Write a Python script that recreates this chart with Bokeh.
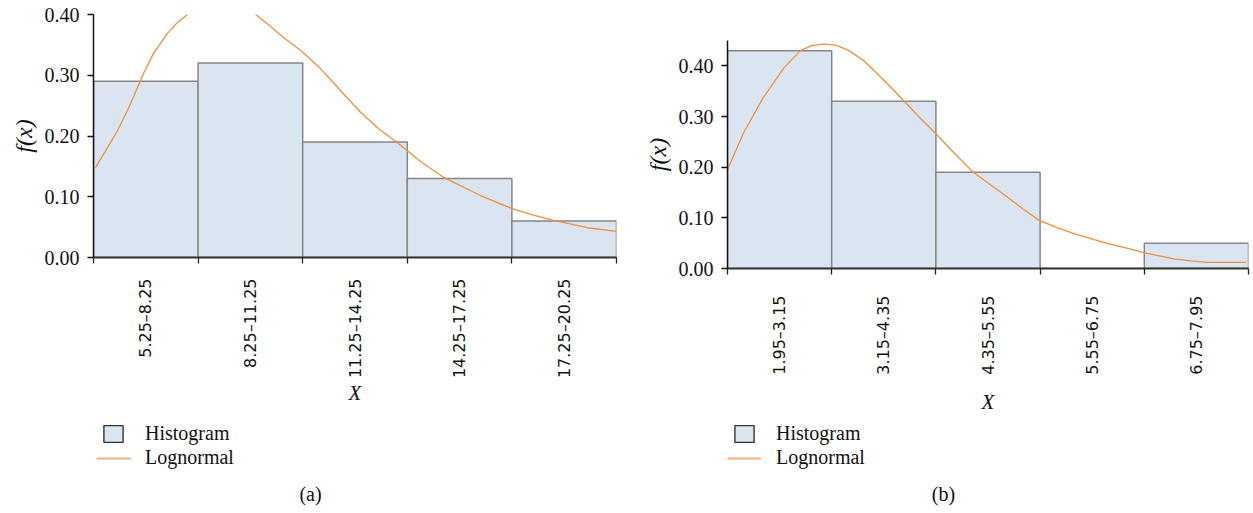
import math
from bokeh.plotting import figure
from bokeh.models import Range1d, FixedTicker, NumeralTickFormatter, Legend, LegendItem, Label
from bokeh.layouts import row, column
from bokeh.embed import file_html
from bokeh.resources import INLINE

# ---------------- data: panel (a) ----------------
a_edges = [5.25, 8.25, 11.25, 14.25, 17.25, 20.25]
a_labels = ["5.25–8.25", "8.25–11.25", "11.25–14.25", "14.25–17.25", "17.25–20.25"]
a_freq = [0.29, 0.32, 0.19, 0.13, 0.06]
a_curve_x = [5.307, 5.652, 5.938, 6.225, 6.512, 6.684, 6.971, 7.372, 7.659, 7.946, 8.319,
             8.892, 9.466, 9.839, 10.27, 10.699, 11.187, 11.760, 12.334, 12.908, 13.43,
             13.969, 14.63, 15.288, 16.349, 17.238, 17.84, 18.443, 19.418, 20.250]
a_curve_y = [0.148, 0.181, 0.209, 0.242, 0.280, 0.303, 0.336, 0.369, 0.387, 0.400, 0.422,
             0.438, 0.428, 0.403, 0.383, 0.362, 0.341, 0.311, 0.275, 0.239, 0.212,
             0.189, 0.158, 0.132, 0.102, 0.081, 0.070, 0.061, 0.049, 0.043]

# ---------------- data: panel (b) ----------------
b_edges = [1.95, 3.15, 4.35, 5.55, 6.75, 7.95]
b_labels = ["1.95–3.15", "3.15–4.35", "4.35–5.55", "5.55–6.75", "6.75–7.95"]
b_freq = [0.43, 0.33, 0.19, 0.0, 0.05]
b_curve_x = [1.95, 2.13, 2.36, 2.60, 2.79, 2.92, 3.06, 3.20, 3.35, 3.52, 3.75, 3.98, 4.15,
             4.35, 4.52, 4.78, 5.18, 5.35, 5.54, 5.74, 5.94, 6.33, 6.55, 6.75, 7.09, 7.28,
             7.48, 7.70, 7.92]
b_curve_y = [0.195, 0.266, 0.337, 0.396, 0.430, 0.440, 0.443, 0.441, 0.430, 0.410, 0.372,
             0.331, 0.300, 0.266, 0.235, 0.190, 0.140, 0.118, 0.095, 0.081, 0.069, 0.049,
             0.040, 0.031, 0.019, 0.015, 0.012, 0.012, 0.012]

y_ticks = [0.0, 0.1, 0.2, 0.3, 0.4]
legend_names = ["Histogram", "Lognormal"]

SERIF = "Liberation Serif"
SANS = "DejaVu Sans"
BAR_FILL = "#dbe5f1"
BAR_LINE = "#878787"
CURVE = "#f0903c"
LEG_LINE = "#f4b07c"
H_MAIN = 420
H_LEG = 93
NAN = float("nan")


def panel(edges, freq, labels, cx, cy, ymax, width, mb, label_standoff, xlab_standoff):
    p = figure(width=width, height=H_MAIN, output_backend="svg", toolbar_location=None,
               x_range=Range1d(edges[0], edges[-1]), y_range=Range1d(0, ymax),
               min_border_left=mb[0], min_border_right=mb[1],
               min_border_top=mb[2], min_border_bottom=mb[3])
    p.outline_line_color = None
    p.xgrid.visible = False
    p.ygrid.visible = False

    p.quad(left=edges[:-1], right=edges[1:], bottom=0, top=freq,
           fill_color=BAR_FILL, line_color=BAR_LINE, line_width=1.5)
    p.line(cx, cy, line_color=CURVE, line_width=1.3, line_join="round")

    centers = [(edges[i] + edges[i + 1]) / 2 for i in range(len(labels))]
    xa = p.xaxis[0]
    xa.ticker = FixedTicker(ticks=centers, minor_ticks=edges)
    xa.major_label_overrides = {c: l for c, l in zip(centers, labels)}
    xa.major_label_orientation = math.pi / 2
    xa.major_tick_line_color = None
    xa.major_tick_out = 0
    xa.major_tick_in = 0
    xa.minor_tick_out = 6
    xa.minor_tick_in = 0
    xa.minor_tick_line_color = "#222222"
    xa.minor_tick_line_width = 1.3
    xa.axis_line_color = "#333333"
    xa.axis_line_width = 2
    xa.major_label_standoff = label_standoff
    xa.major_label_text_font = SANS
    xa.major_label_text_font_size = "16px"
    xa.major_label_text_color = "#111111"
    xa.axis_label = "X"
    xa.axis_label_text_font = SERIF
    xa.axis_label_text_font_style = "italic"
    xa.axis_label_text_font_size = "21px"
    xa.axis_label_text_color = "#111111"
    xa.axis_label_standoff = xlab_standoff

    ya = p.yaxis[0]
    ya.ticker = FixedTicker(ticks=y_ticks)
    ya.formatter = NumeralTickFormatter(format="0.00")
    ya.minor_tick_line_color = None
    ya.major_tick_out = 6
    ya.major_tick_in = 0
    ya.major_tick_line_color = "#111111"
    ya.major_tick_line_width = 1.3
    ya.axis_line_color = "#111111"
    ya.axis_line_width = 1.5
    ya.major_label_standoff = 8
    ya.major_label_text_font = SERIF
    ya.major_label_text_font_size = "20px"
    ya.major_label_text_color = "#111111"
    ya.axis_label = "f(x)"
    ya.axis_label_text_font = SERIF
    ya.axis_label_text_font_style = "italic"
    ya.axis_label_text_font_size = "24px"
    ya.axis_label_text_color = "#111111"
    ya.axis_label_standoff = 5
    return p


def make_legend(items, loc, gw, gh, standoff):
    return Legend(items=items, location=loc, orientation="vertical", padding=0, margin=0,
                  spacing=0, glyph_width=gw, glyph_height=gh, label_height=20,
                  label_standoff=standoff, background_fill_alpha=0, border_line_alpha=0,
                  label_text_font=SERIF, label_text_font_size="20px",
                  label_text_color="#111111")


def legend_fig(width, sq_loc, sq_standoff, ln_loc, ln_w, ln_standoff, caption, cap_xy):
    q = figure(width=width, height=H_LEG, output_backend="svg", toolbar_location=None,
               x_range=Range1d(0, 1), y_range=Range1d(0, 1),
               x_axis_location=None, y_axis_location=None,
               min_border_left=0, min_border_right=0, min_border_top=0, min_border_bottom=0)
    q.outline_line_color = None
    q.xgrid.visible = False
    q.ygrid.visible = False
    # legend proxies: NaN positions, so only their legend keys are drawn
    sq = q.quad(left=[NAN], right=[NAN], top=[NAN], bottom=[NAN], fill_color=BAR_FILL,
                line_color="#333333", line_width=1.4)
    ln = q.line(x=[NAN, NAN], y=[NAN, NAN], line_color=LEG_LINE, line_width=2)
    q.add_layout(make_legend([LegendItem(label=legend_names[0], renderers=[sq])],
                             sq_loc, 24, 21, sq_standoff))
    q.add_layout(make_legend([LegendItem(label=legend_names[1], renderers=[ln])],
                             ln_loc, ln_w, 20, ln_standoff))
    q.add_layout(Label(x=cap_xy[0], y=cap_xy[1], x_units="screen", y_units="screen",
                       text=caption, text_align="center", text_baseline="middle",
                       text_font=SERIF, text_font_size="20px", text_color="#111111"))
    return q


pa = panel(a_edges, a_freq, a_labels, a_curve_x, a_curve_y, 0.40, 633,
           (93, 17, 14, 163), 15, 0)
pb = panel(b_edges, b_freq, b_labels, b_curve_x, b_curve_y, 0.45, 620,
           (94, 5, 40, 152), 21, 12)
la = legend_fig(633, (8, 68), 20, (3, 44), 35, 14, "(a)", (217, 20))
lb = legend_fig(620, (5, 68), 20, (0, 44), 34, 15, "(b)", (216, 20))

layout = row(column(pa, la), column(pb, lb))
open("out.html", "w").write(file_html(layout, INLINE))
